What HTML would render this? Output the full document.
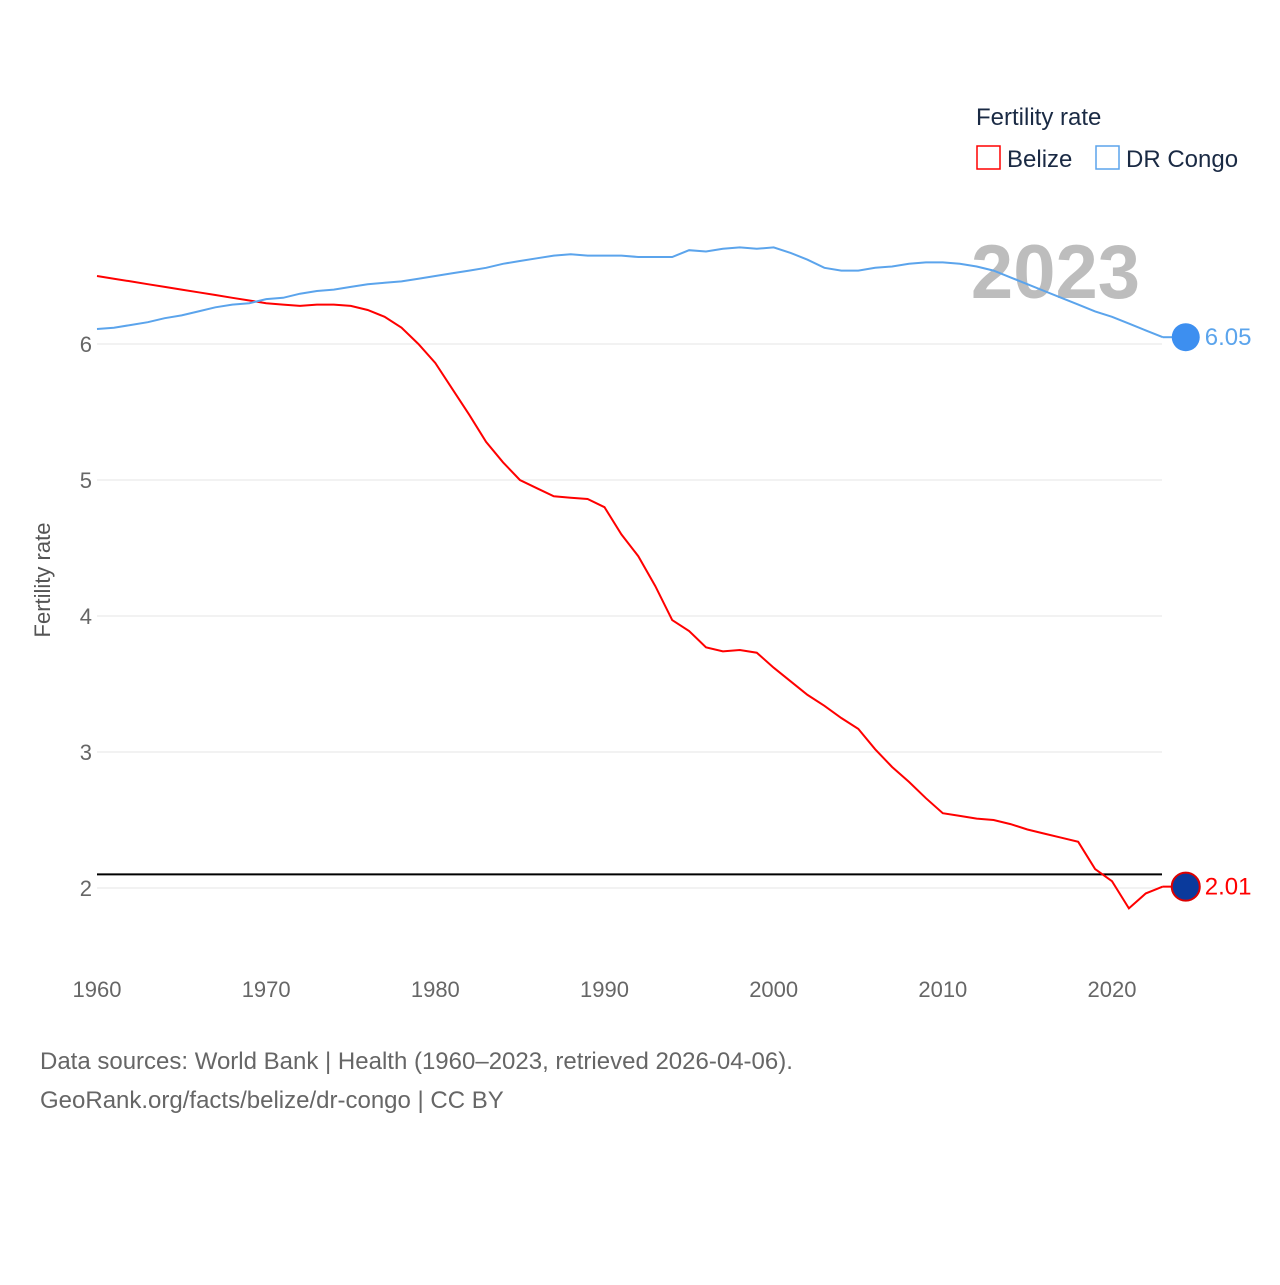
<!DOCTYPE html>
<html><head><meta charset="utf-8"><style>
body{margin:0;background:#fff;}
svg text{font-family:"Liberation Sans",sans-serif;}
</style></head><body>
<svg width="1280" height="1280" xmlns="http://www.w3.org/2000/svg">
<g id="grid"></g>
<g id="yticks"></g>
<g id="xticks"></g>
<text x="50" y="580" transform="rotate(-90 50 580)" text-anchor="middle" font-size="22" fill="#555">Fertility rate</text>
<text x="1140" y="298" text-anchor="end" font-size="76" font-weight="bold" fill="#bdbdbd">2023</text>
<line id="refline" x1="97" x2="1162" stroke="#000" stroke-width="2"/>
<path id="belize" fill="none" stroke="#f00" stroke-width="2"/>
<path id="congo" fill="none" stroke="#5ba4ec" stroke-width="2"/>
<g id="ends"></g>
<g>
<text x="976" y="125" font-size="24" fill="#1a2a44">Fertility rate</text>
<rect x="977" y="146" width="23" height="23" fill="none" stroke="#f00" stroke-width="1.5"/>
<text x="1007" y="167" font-size="24" fill="#1a2a44">Belize</text>
<rect x="1096" y="146" width="23" height="23" fill="none" stroke="#5ba4ec" stroke-width="1.5"/>
<text x="1126" y="167" font-size="24" fill="#1a2a44">DR Congo</text>
</g>
<text x="40" y="1069" font-size="24" fill="#666">Data sources: World Bank | Health (1960–2023, retrieved 2026-04-06).</text>
<text x="40" y="1108" font-size="24" fill="#666">GeoRank.org/facts/belize/dr-congo | CC BY</text>
</svg>
<script>
const years=[];for(let y=1960;y<=2023;y++)years.push(y);
const belize=[6.5,6.48,6.46,6.44,6.42,6.40,6.38,6.36,6.34,6.32,6.30,6.29,6.28,6.29,6.29,6.28,6.25,6.2,6.12,6.0,5.86,5.67,5.48,5.28,5.13,5.0,4.94,4.88,4.87,4.86,4.8,4.6,4.44,4.22,3.97,3.89,3.77,3.74,3.75,3.73,3.62,3.52,3.42,3.34,3.25,3.17,3.02,2.89,2.78,2.66,2.55,2.53,2.51,2.50,2.47,2.43,2.40,2.37,2.34,2.14,2.05,1.85,1.96,2.01];
const congo=[6.11,6.12,6.14,6.16,6.19,6.21,6.24,6.27,6.29,6.30,6.33,6.34,6.37,6.39,6.40,6.42,6.44,6.45,6.46,6.48,6.50,6.52,6.54,6.56,6.59,6.61,6.63,6.65,6.66,6.65,6.65,6.65,6.64,6.64,6.64,6.69,6.68,6.70,6.71,6.70,6.71,6.67,6.62,6.56,6.54,6.54,6.56,6.57,6.59,6.60,6.60,6.59,6.57,6.54,6.49,6.44,6.39,6.34,6.29,6.24,6.20,6.15,6.10,6.05];
const yTicks=[2,3,4,5,6];
const xTicks=[1960,1970,1980,1990,2000,2010,2020];
const refValue=2.1;
const X=y=>97+(y-1960)*(1015/60);
const Y=v=>888-(v-2)*136;
const NS="http://www.w3.org/2000/svg";
function mk(t,a,p){const e=document.createElementNS(NS,t);for(const k in a)e.setAttribute(k,a[k]);p.appendChild(e);return e;}
const grid=document.getElementById('grid'),yt=document.getElementById('yticks'),xt=document.getElementById('xticks');
yTicks.forEach(v=>{
 const l=mk('line',{x1:97,x2:1162,y1:Y(v),y2:Y(v),stroke:'#e6e6e6','stroke-width':1},grid);
 
 
 const t=mk('text',{x:92,y:Y(v)+8,'text-anchor':'end','font-size':22,fill:'#666'},yt);t.textContent=v;
 
 
});
xTicks.forEach(v=>{
 const t=mk('text',{x:X(v),y:997,'text-anchor':'middle','font-size':22,fill:'#666'},xt);t.textContent=v;
 
 
});
const rl=document.getElementById('refline');rl.setAttribute('y1',Y(refValue));rl.setAttribute('y2',Y(refValue));
const pth=a=>a.map((v,i)=>(i?'L':'M')+X(years[i]).toFixed(1)+','+Y(v).toFixed(1)).join('');
document.getElementById('belize').setAttribute('d',pth(belize));
document.getElementById('congo').setAttribute('d',pth(congo));
const ends=document.getElementById('ends');
[[belize,'#f00','belize'],[congo,'#5ba4ec','dr-congo']].forEach(([a,c,n])=>{
 const v=a[a.length-1],x=X(2023),y=Y(v);
 mk('line',{x1:x,x2:x+10,y1:y,y2:y,stroke:c,'stroke-width':2},ends);
 const ci=mk('circle',{cx:x+23,cy:y,r:14,fill:n==='belize'?'#0a3a9c':'#3d8ff0',stroke:n==='belize'?'#d00':'none','stroke-width':2},ends);
 
 
 const t=mk('text',{x:x+42,y:y+8,'font-size':24,fill:c},ends);t.textContent=v.toFixed(2);
 
 
});
</script>
</body></html>
